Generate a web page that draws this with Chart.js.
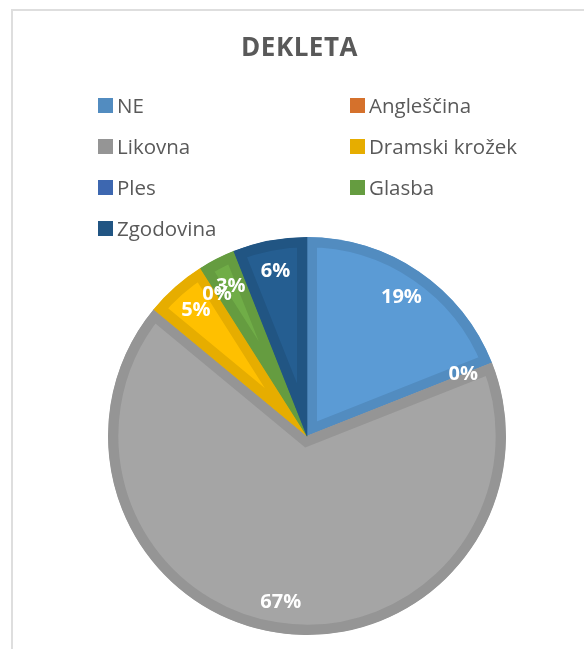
<!DOCTYPE html>
<html lang="sl">
<head>
  <meta charset="UTF-8">
  <title>DEKLETA</title>
  <script src="https://cdn.jsdelivr.net/npm/chart.js"></script>
  <style>
    html, body { margin: 0; padding: 0; background: #fff; overflow: hidden; }
    #wrap { position: relative; width: 584px; height: 649px; font-family: "Open Sans", sans-serif; }
    #frame { position: absolute; left: 11px; top: 9px; width: 700px; height: 700px; border: 2px solid #dedede; box-sizing: border-box; }
    #title { position: absolute; left: 0; top: 33px; width: 599px; text-align: center; font-size: 26px; line-height: 26px; font-weight: bold; color: #595959; letter-spacing: 0.5px; }
    #legend .item { position: absolute; height: 15px; line-height: 15px; font-size: 20.5px; color: #595959; white-space: nowrap; }
    #legend .box { display: inline-block; width: 15px; height: 15px; vertical-align: top; margin-right: 4px; }
    #chartBox { position: absolute; left: 0; top: 0; width: 584px; height: 649px; }
  </style>
</head>
<body>
  <div id="wrap">
    <div id="frame"></div>
    <div id="chartBox"><canvas id="pieChart"></canvas></div>
    <div id="title">DEKLETA</div>
    <div id="legend"></div>
  </div>

  <script>
    // chart data (percent values as shown on the slices)
    const labels = ['NE', 'Angleščina', 'Likovna', 'Dramski krožek', 'Ples', 'Glasba', 'Zgodovina'];
    const values = [19, 0, 67, 5, 0, 3, 6];

    const fillColors = ['#5b9bd5', '#ed7d31', '#a5a5a5', '#ffc000', '#4472c4', '#70ad47', '#255e91'];
    const edgeColors = ['#528cc0', '#d5712c', '#959595', '#e6ad00', '#3d67b0', '#659c40', '#215583'];

    // percentage labels placed near the outer edge of each slice
    const sliceLabels = {
      id: 'sliceLabels',
      afterDatasetsDraw(chart) {
        const ctx = chart.ctx;
        const meta = chart.getDatasetMeta(0);
        const total = values.reduce((a, b) => a + b, 0);
        ctx.save();
        ctx.fillStyle = '#ffffff';
        ctx.font = 'bold 20px "Open Sans"';
        ctx.textAlign = 'center';
        ctx.textBaseline = 'middle';
        meta.data.forEach((arc, i) => {
          const p = arc.getProps(['x', 'y', 'startAngle', 'endAngle', 'outerRadius'], true);
          const mid = (p.startAngle + p.endAngle) / 2;
          const r = p.outerRadius - 31;
          const pct = Math.round(values[i] / total * 100) + '%';
          ctx.fillText(pct, p.x + Math.cos(mid) * r, p.y + Math.sin(mid) * r);
        });
        ctx.restore();
      }
    };

    // html legend in two columns
    const htmlLegend = {
      id: 'htmlLegend',
      afterUpdate(chart) {
        const box = document.getElementById('legend');
        box.innerHTML = '';
        const items = chart.options.plugins.legend.labels.generateLabels(chart);
        items.forEach((item, i) => {
          const el = document.createElement('div');
          el.className = 'item';
          el.style.left = (i % 2 === 0 ? 98 : 350) + 'px';
          el.style.top = (98 + Math.floor(i / 2) * 41) + 'px';
          el.innerHTML = '<span class="box" style="background:' + edgeColors[i] + '"></span>' + item.text;
          box.appendChild(el);
        });
      }
    };

    new Chart(document.getElementById('pieChart'), {
      type: 'pie',
      data: {
        labels: labels,
        datasets: [{
          data: values,
          backgroundColor: fillColors,
          borderColor: edgeColors,
          borderWidth: 10,
          borderAlign: 'inner',
          borderJoinStyle: 'miter'
        }]
      },
      options: {
        responsive: true,
        maintainAspectRatio: false,
        animation: false,
        radius: 199,
        layout: { padding: { left: 30, right: 0, top: 230, bottom: 7 } },
        plugins: {
          legend: { display: false },
          title: { display: false },
          tooltip: { enabled: false }
        }
      },
      plugins: [sliceLabels, htmlLegend]
    });
  </script>
</body>
</html>
